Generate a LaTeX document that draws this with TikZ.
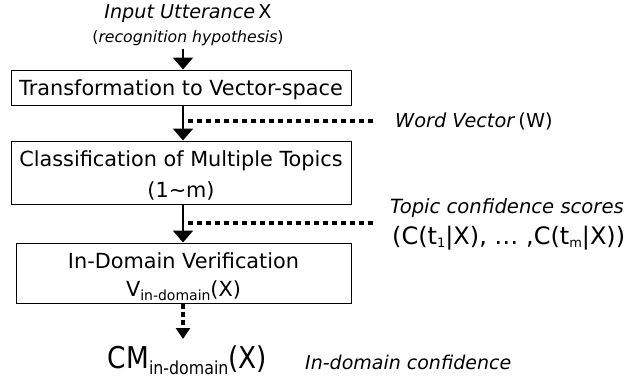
\documentclass[tikz,border=0pt]{standalone}
\usepackage{fontspec}
\setmainfont{DejaVu Sans}
\newfontfamily\cmfont{DejaVu Sans}[FakeStretch=0.88]
\usetikzlibrary{arrows.meta}
\newcommand{\sbx}[3]{\raisebox{-#2}{\fontsize{#1}{#1}\selectfont #3}}
\begin{document}
\begin{tikzpicture}[x=1pt,y=-1pt,
  box/.style={draw, line width=1pt, inner sep=0pt},
  lbl/.style={inner sep=0pt},
  btxt/.style={inner sep=0pt, anchor=base, font=\fontsize{20.8}{24}\selectfont},
  arr/.style={-{Triangle[width=20pt,length=12pt]}, line width=2.6pt},
  dotarr/.style={-{Triangle[width=14pt,length=11pt]}, line width=4pt, dash pattern=on 5pt off 3pt},
  dots/.style={line width=4pt, dash pattern=on 4.5pt off 4.5pt}]
\useasboundingbox (0,0) rectangle (638,383);
% texts at top
\node[lbl, font=\fontsize{19.2}{21}\selectfont] (inp) at (188,13) {\textit{Input Utterance}\,X};
\node[lbl, font=\fontsize{15.7}{18}\selectfont] (rec) at (188,38) {(\textit{recognition hypothesis})};
% boxes
\node[box, minimum width=340pt, minimum height=35pt] (b1) at (181,87.5) {};
\node[box, minimum width=340pt, minimum height=63pt] (b2) at (181,172.5) {};
\node[box, minimum width=335pt, minimum height=60pt] (b3) at (183.5,273) {};
% box texts
\node[btxt] (t1) at (181,95) {Transformation to Vector-space};
\node[btxt] (t2a) at (181,166) {Classification of Multiple Topics};
\node[btxt] (t2b) at (181,197) {(1\char"223C m)};
\node[btxt] (t3a) at (183.5,268) {In-Domain Verification};
\node[btxt] (t3b) at (183.5,296) {V\sbx{14pt}{4pt}{in-domain}(X)};
% right labels
\node[lbl, anchor=west, font=\fontsize{19.3}{21}\selectfont] (wv) at (395,121) {\textit{Word Vector}\,(W)};
\node[lbl, anchor=west, font=\fontsize{19.6}{21}\selectfont] (tc) at (390,208) {\textit{Topic confidence scores}};
\node[lbl, anchor=west, font=\fontsize{24}{26}\selectfont] (cs) at (392,238) {(C(t\sbx{13pt}{3pt}{1}|X), … ,C(t\sbx{13pt}{3pt}{m}|X))};
\node[lbl, font=\cmfont\fontsize{30}{32}\selectfont] (cm) at (187.5,360) {CM\sbx{18pt}{6pt}{in-domain}(X)};
\node[lbl, anchor=west, font=\fontsize{19}{21}\selectfont] (idc) at (305,362) {\textit{In-domain confidence}};
% arrows
\draw[arr] (183,49) -- ([xshift=2pt]b1.north);
\draw[arr] ([xshift=2pt]b1.south) -- ([xshift=2pt]b2.north);
\draw[arr] ([xshift=2pt]b2.south) -- ([xshift=-0.5pt]b3.north);
\draw[dotarr] ([xshift=-0.5pt]b3.south) -- (183,339);
% dotted lines
\coordinate (d1) at (188,121);
\coordinate (e1) at (375,121);
\coordinate (d2) at (188,223);
\coordinate (e2) at (375,223);
\draw[dots] (d1) -- (e1);
\draw[dots] (d2) -- (e2);
\end{tikzpicture}
\end{document}
